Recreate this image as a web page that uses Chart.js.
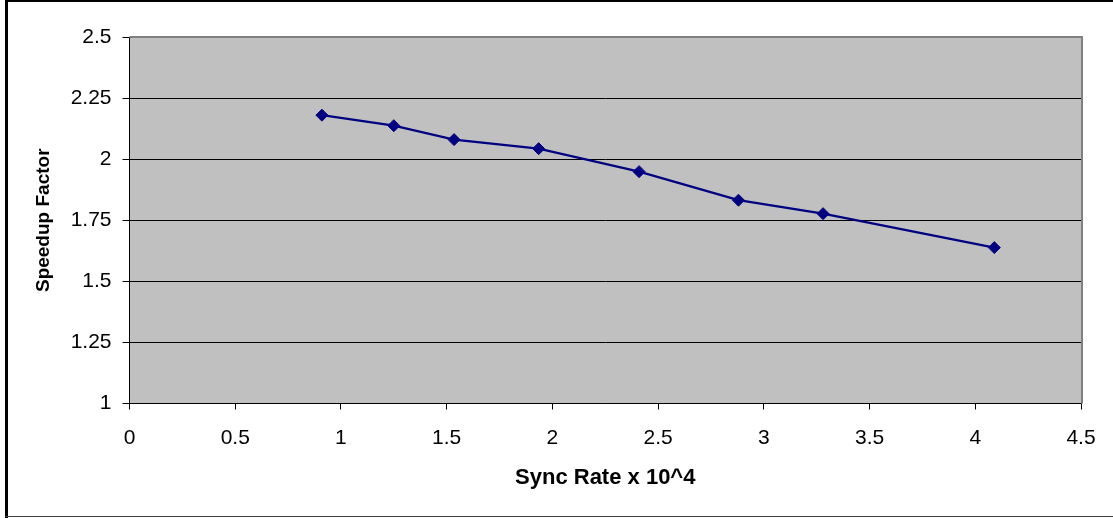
<!DOCTYPE html>
<html>
<head>
<meta charset="utf-8">
<script src="https://cdn.jsdelivr.net/npm/chart.js@4/dist/chart.umd.min.js"></script>
<style>
html,body{margin:0;padding:0;background:#fff;}
canvas{display:block;}
</style>
</head>
<body>
<canvas id="c" width="1113" height="518"></canvas>
<script>
const syncRate = [0.91, 1.25, 1.535, 1.935, 2.41, 2.88, 3.28, 4.09];
const speedup = [2.18, 2.137, 2.08, 2.043, 1.949, 1.832, 1.777, 1.638];
const xTitle = 'Sync Rate x 10^4';
const yTitle = 'Speedup Factor';
const xMin = 0, xMax = 4.5, xStep = 0.5;
const yMin = 1, yMax = 2.5, yStep = 0.25;

const points = syncRate.map((x, i) => ({x: x, y: speedup[i]}));

const PLOT_LEFT = 129.5, PLOT_TOP = 37, PLOT_RIGHT = 1081, PLOT_BOTTOM = 403.5;
const W = 1113, H = 518;
const FONT = 'Liberation Sans, Arial, sans-serif';

const decor = {
  id: 'decor',
  beforeDraw(chart) {
    const ctx = chart.ctx, a = chart.chartArea;
    ctx.save();
    ctx.fillStyle = '#fff';
    ctx.fillRect(0, 0, W, H);
    ctx.fillStyle = '#C0C0C0';
    ctx.fillRect(a.left, a.top, a.right - a.left, a.bottom - a.top);
    ctx.restore();
  },
  afterDraw(chart) {
    const ctx = chart.ctx, a = chart.chartArea;
    ctx.save();
    ctx.fillStyle = '#808080';
    ctx.fillRect(a.left, a.top - 1, a.right - a.left + 2, 2);
    ctx.fillRect(a.right, a.top - 1, 2, a.bottom - a.top + 1);
    ctx.fillStyle = '#000';
    ctx.fillRect(5, 0, 3, H);
    ctx.fillRect(5, 0, W - 5, 2);
    ctx.fillStyle = '#404040';
    ctx.fillRect(5, 516, W - 5, 1);
    ctx.restore();
  }
};

new Chart(document.getElementById('c'), {
  type: 'scatter',
  data: {
    datasets: [{
      data: points,
      showLine: true,
      borderColor: '#000080',
      backgroundColor: '#000080',
      borderWidth: 2.3,
      pointStyle: 'rectRot',
      pointRadius: 6,
      pointHoverRadius: 6,
      pointBorderWidth: 1,
      tension: 0
    }]
  },
  options: {
    responsive: false,
    animation: false,
    events: [],
    layout: { padding: { left: 0, top: PLOT_TOP, right: W - PLOT_RIGHT, bottom: 0 } },
    plugins: { legend: { display: false }, tooltip: { enabled: false } },
    scales: {
      x: {
        type: 'linear',
        min: xMin, max: xMax,
        afterBuildTicks(scale) {
          const t = [];
          for (let v = xMin; v <= xMax + 1e-9; v += xStep) t.push({value: Math.round(v * 100) / 100});
          scale.ticks = t;
        },
        afterFit(scale) { scale.height = H - PLOT_BOTTOM; },
        ticks: {
          color: '#000',
          font: { family: FONT, size: 21 },
          padding: 16,
          maxRotation: 0,
          callback: v => String(v)
        },
        grid: { display: true, drawOnChartArea: false, color: '#000', tickLength: 6, lineWidth: 1 },
        border: { display: true, color: '#000', width: 1 },
        title: {
          display: true,
          text: xTitle,
          color: '#000',
          font: { family: FONT, size: 22, weight: 'bold' },
          padding: { top: 0, bottom: 27 }
        }
      },
      y: {
        type: 'linear',
        min: yMin, max: yMax,
        afterBuildTicks(scale) {
          const t = [];
          for (let v = yMin; v <= yMax + 1e-9; v += yStep) t.push({value: Math.round(v * 100) / 100});
          scale.ticks = t;
        },
        afterFit(scale) { scale.width = PLOT_LEFT; },
        ticks: {
          color: '#000',
          font: { family: FONT, size: 21 },
          padding: 11,
          callback: v => String(v)
        },
        grid: { display: true, color: '#000', tickLength: 7, lineWidth: 1 },
        border: { display: true, color: '#000', width: 1 },
        title: {
          display: true,
          text: yTitle,
          color: '#000',
          font: { family: FONT, size: 19, weight: 'bold' },
          padding: { top: 32.5, bottom: 0 }
        }
      }
    }
  },
  plugins: [decor]
});
</script>
</body>
</html>
